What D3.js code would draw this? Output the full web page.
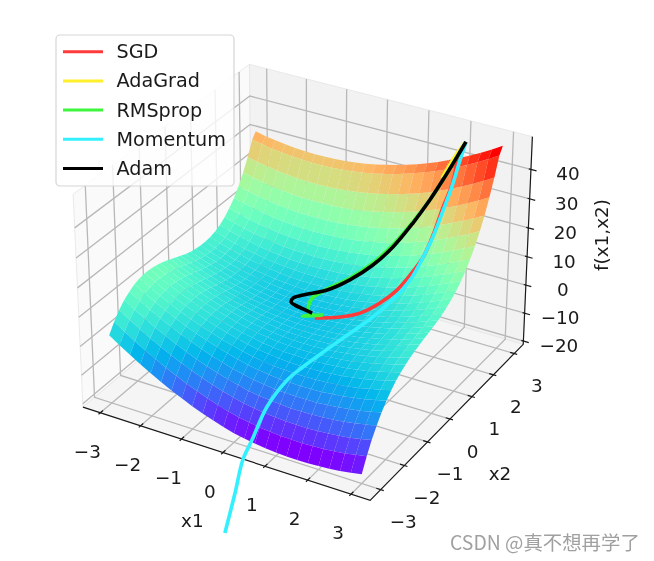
<!DOCTYPE html>
<html><head><meta charset="utf-8"><style>html,body{margin:0;background:#fff}svg{display:block}text{font-family:"DejaVu Sans";fill:#1a1a1a}</style>
<script src="https://cdn.jsdelivr.net/npm/d3@7"></script></head><body><div id="c"></div><script>
const x1Grid=[-3,-2.75,-2.5,-2.25,-2,-1.75,-1.5,-1.25,-1,-.75,-.5,-.25,0,.25,.5,.75,1,1.25,1.5,1.75,2,2.25,2.5,2.75,3];
const x2Grid=[-3,-2.8,-2.6,-2.4,-2.2,-2,-1.8,-1.6,-1.4,-1.2,-1,-.8,-.6,-.4,-.2,0,.2,.4,.6,.8,1,1.2,1.4,1.6,1.8,2,2.2,2.4,2.6,2.8,2.95];
const zGrid=[
[2.5,0.1,-2.1,-4.3,-6.3,-8.2,-10.0,-11.6,-13.2,-14.6,-15.8,-17.0,-18.0,-18.7,-19.3,-19.7,-20.0,-20.2,-20.3,-20.2,-20.0,-19.7,-19.3,-18.7,-18.0],
[5.6,3.3,1.1,-1.0,-2.9,-4.8,-6.5,-8.1,-9.5,-10.9,-12.1,-13.2,-14.1,-14.7,-15.3,-15.6,-15.9,-16.0,-16.1,-15.9,-15.7,-15.3,-14.9,-14.2,-13.5],
[8.2,5.9,3.8,1.7,-0.2,-1.9,-3.6,-5.1,-6.5,-7.8,-8.9,-9.9,-10.8,-11.4,-11.9,-12.2,-12.4,-12.5,-12.5,-12.3,-12.0,-11.6,-11.1,-10.4,-9.6],
[10.2,7.9,5.9,3.9,2.1,0.4,-1.2,-2.7,-4.0,-5.2,-6.3,-7.2,-8.1,-8.6,-9.0,-9.3,-9.5,-9.5,-9.4,-9.2,-8.9,-8.4,-7.8,-7.1,-6.3],
[11.6,9.5,7.5,5.6,3.8,2.2,0.7,-0.7,-2.0,-3.1,-4.2,-5.0,-5.8,-6.3,-6.7,-6.9,-7.0,-7.0,-6.9,-6.6,-6.2,-5.7,-5.1,-4.3,-3.4],
[12.7,10.6,8.7,6.8,5.1,3.5,2.1,0.8,-0.4,-1.5,-2.5,-3.3,-4.0,-4.4,-4.8,-4.9,-5.0,-4.9,-4.8,-4.4,-4.0,-3.4,-2.8,-1.9,-1.0],
[13.3,11.3,9.4,7.7,6.0,4.5,3.1,1.9,0.7,-0.3,-1.2,-2.0,-2.6,-3.0,-3.2,-3.4,-3.4,-3.3,-3.0,-2.7,-2.2,-1.6,-0.8,0.0,1.0],
[13.6,11.7,9.8,8.1,6.6,5.1,3.8,2.6,1.5,0.6,-0.3,-1.0,-1.5,-1.9,-2.1,-2.2,-2.1,-2.0,-1.7,-1.3,-0.7,-0.1,0.7,1.6,2.7],
[13.6,11.7,9.9,8.3,6.8,5.4,4.2,3.0,2.0,1.1,0.4,-0.3,-0.8,-1.1,-1.2,-1.3,-1.2,-1.0,-0.6,-0.2,0.4,1.1,2.0,2.9,4.0],
[13.3,11.5,9.8,8.2,6.8,5.5,4.3,3.2,2.2,1.4,0.7,0.2,-0.3,-0.5,-0.6,-0.6,-0.5,-0.2,0.2,0.7,1.3,2.1,3.0,4.0,5.1],
[12.8,11.1,9.4,7.9,6.6,5.3,4.2,3.2,2.3,1.5,0.9,0.4,0.0,-0.2,-0.2,-0.2,0.0,0.3,0.8,1.3,2.0,2.8,3.8,4.8,6.0],
[12.2,10.5,8.9,7.5,6.2,5.0,3.9,3.0,2.2,1.5,0.9,0.4,0.1,0.0,0.0,0.1,0.3,0.7,1.2,1.8,2.5,3.4,4.4,5.5,6.7],
[11.4,9.8,8.3,6.9,5.7,4.6,3.5,2.7,1.9,1.3,0.8,0.4,0.1,0.1,0.1,0.3,0.5,1.0,1.5,2.2,2.9,3.9,4.9,6.1,7.3],
[10.6,9.1,7.6,6.3,5.1,4.1,3.1,2.3,1.6,1.0,0.6,0.3,0.1,0.1,0.2,0.4,0.7,1.2,1.7,2.5,3.3,4.3,5.3,6.6,7.9],
[9.8,8.3,6.9,5.7,4.5,3.5,2.7,1.9,1.3,0.8,0.4,0.2,0.0,0.0,0.2,0.4,0.8,1.3,2.0,2.7,3.6,4.6,5.8,7.0,8.4],
[9.0,7.6,6.3,5.1,4.0,3.1,2.3,1.6,1.0,0.6,0.3,0.1,0.0,0.1,0.3,0.6,1.0,1.6,2.3,3.1,4.0,5.1,6.3,7.6,9.0],
[8.4,7.1,5.8,4.7,3.6,2.8,2.0,1.4,0.8,0.5,0.2,0.1,0.0,0.2,0.4,0.8,1.2,1.9,2.6,3.5,4.4,5.6,6.8,8.2,9.6],
[8.0,6.7,5.5,4.4,3.4,2.6,1.9,1.3,0.8,0.5,0.3,0.2,0.2,0.4,0.7,1.1,1.6,2.3,3.1,4.0,5.0,6.2,7.5,8.9,10.4],
[7.8,6.5,5.3,4.3,3.4,2.6,1.9,1.4,1.0,0.7,0.5,0.5,0.6,0.8,1.1,1.6,2.2,2.9,3.7,4.7,5.8,7.0,8.3,9.8,11.4],
[7.8,6.5,5.4,4.4,3.6,2.8,2.2,1.7,1.4,1.1,1.0,1.0,1.2,1.4,1.8,2.3,3.0,3.7,4.6,5.6,6.8,8.0,9.4,10.9,12.6],
[8.0,6.8,5.8,4.8,4.0,3.3,2.8,2.3,2.0,1.8,1.8,1.8,2.0,2.3,2.8,3.3,4.0,4.8,5.8,6.8,8.0,9.3,10.8,12.3,14.0],
[8.6,7.4,6.4,5.5,4.8,4.1,3.6,3.2,3.0,2.8,2.8,2.9,3.2,3.5,4.0,4.6,5.4,6.2,7.2,8.3,9.6,10.9,12.4,14.0,15.8],
[9.5,8.4,7.5,6.6,5.9,5.3,4.9,4.5,4.3,4.2,4.3,4.4,4.7,5.1,5.7,6.3,7.1,8.0,9.1,10.2,11.5,12.9,14.5,16.1,17.9],
[10.9,9.8,8.9,8.1,7.5,6.9,6.5,6.2,6.1,6.0,6.1,6.3,6.7,7.1,7.7,8.4,9.3,10.2,11.3,12.5,13.9,15.3,16.9,18.6,20.5],
[12.7,11.7,10.8,10.1,9.5,9.0,8.6,8.4,8.3,8.3,8.4,8.7,9.1,9.6,10.2,11.0,11.9,12.9,14.0,15.3,16.7,18.2,19.8,21.6,23.5],
[15.0,14.1,13.3,12.6,12.0,11.6,11.3,11.1,11.0,11.1,11.3,11.6,12.0,12.6,13.3,14.1,15.0,16.1,17.3,18.6,20.0,21.6,23.3,25.1,27.0],
[17.9,17.0,16.2,15.6,15.1,14.7,14.4,14.3,14.3,14.4,14.6,15.0,15.5,16.1,16.8,17.7,18.7,19.8,21.0,22.4,23.9,25.5,27.2,29.1,31.1],
[21.4,20.5,19.8,19.2,18.8,18.4,18.2,18.1,18.2,18.3,18.6,19.0,19.6,20.2,21.0,21.9,23.0,24.1,25.4,26.8,28.4,30.0,31.8,33.7,35.8],
[25.5,24.7,24.1,23.5,23.1,22.8,22.7,22.6,22.7,22.9,23.3,23.7,24.3,25.0,25.9,26.8,27.9,29.1,30.5,31.9,33.5,35.2,37.1,39.0,41.1],
[30.4,29.7,29.0,28.6,28.2,28.0,27.8,27.9,28.0,28.3,28.6,29.2,29.8,30.6,31.4,32.5,33.6,34.9,36.2,37.8,39.4,41.2,43.0,45.1,47.2],
[32.3,31.5,31.0,30.5,30.1,29.9,29.8,29.9,30.0,30.3,30.7,31.2,31.9,32.7,33.6,34.6,35.7,37.0,38.4,40.0,41.6,43.4,45.3,47.3,49.5]];
const sgdPath=[[2.11,3.01,47.07],[2.01,2.87,41.53],[2.00,2.64,34.54],[1.92,2.41,28.19],[1.87,2.08,20.68],[1.81,1.76,15.04],[1.67,1.46,10.42],[1.53,1.14,6.89],[1.31,0.80,3.93],[1.03,0.45,1.81],[0.68,0.22,0.66],[0.20,-0.02,0.04]];
const adaGradPath=[[2.11,3.01,47.07],[1.92,2.91,42.26],[1.72,2.72,35.25]];
const rmspropPath=[[2.11,3.01,47.07],[1.97,2.89,42.21],[1.75,2.70,34.84],[1.55,2.51,28.50],[1.28,2.27,21.50],[0.97,1.97,14.40],[0.66,1.67,8.97],[0.29,1.33,4.60],[-0.07,0.97,1.81],[-0.16,0.82,1.13],[-0.23,0.62,0.53],[-0.17,0.37,0.16],[-0.03,0.13,0.02],[0.09,0.06,0.02],[0.28,0.15,0.15],[-0.07,-0.08,0.02],[0.09,0.06,0.02]];
const momentumPath=[[2.11,3.01,47.07],[2.05,2.84,40.76],[2.01,2.61,34.04],[1.94,2.38,27.47],[1.88,2.05,20.25],[1.81,1.76,15.04],[1.74,1.42,10.31],[1.63,1.10,6.95],[1.50,0.76,4.40],[1.36,0.29,2.34],[1.16,-0.51,0.88],[1.01,-1.13,-0.29],[0.83,-1.61,-2.23],[0.67,-1.97,-4.66],[0.50,-2.51,-10.51],[0.42,-2.98,-18.60],[0.34,-3.22,-23.97],[0.34,-3.54,-32.91],[0.29,-3.88,-44.41]];
const adamPath=[[2.11,3.01,47.07],[1.97,2.89,42.21],[1.75,2.70,34.84],[1.55,2.51,28.50],[1.29,2.26,21.27],[0.99,1.94,13.98],[0.68,1.63,8.60],[0.31,1.29,4.30],[-0.05,0.95,1.70],[-0.46,0.63,0.56],[-0.59,0.43,0.36],[-0.55,0.28,0.25],[-0.42,0.22,0.15],[-0.20,0.18,0.04],[0.05,0.13,0.03]];
const names=['SGD','AdaGrad','RMSprop','Momentum','Adam'];
const paths=[sgdPath,adaGradPath,rmspropPath,momentumPath,adamPath];
const colors=['#ff3a3a','#fff02e','#3cf53c','#33f0ff','#000'];
const xTicks=[-3,-2,-1,0,1,2,3],yTicks=[-3,-2,-1,0,1,2,3],zTicks=[-20,-10,0,10,20,30,40];
const W=654,H=561;
const el=30*Math.PI/180,az=-60*Math.PI/180,dist=10;
const n=[Math.cos(el)*Math.cos(az),Math.cos(el)*Math.sin(az),Math.sin(el)];
const un=Math.hypot(n[0],n[1]);const u=[-n[1]/un,n[0]/un,0];
const v=[n[1]*u[2]-n[2]*u[1],n[2]*u[0]-n[0]*u[2],n[0]*u[1]-n[1]*u[0]];
const xBox=[-3.4375,3.4375],yBox=[-3.4375,3.4375],zBox=[-21.2,52.2];
const wx=d3.scaleLinear(xBox,[-.5714,.5714]),wy=d3.scaleLinear(yBox,[-.5714,.5714]),wz=d3.scaleLinear(zBox,[-.4286,.4286]);
const k=2880,cx=307,cy=270.5;
const sX=d3.scaleLinear([-.1,.1],[cx-k*.1,cx+k*.1]),sY=d3.scaleLinear([-.1,.1],[cy+k*.1,cy-k*.1]);
function proj(x,y,z){const p=[wx(x),wy(y),wz(z)];const d=dist-(p[0]*n[0]+p[1]*n[1]+p[2]*n[2]);
 return [sX((p[0]*u[0]+p[1]*u[1])/d),sY((p[0]*v[0]+p[1]*v[1]+p[2]*v[2])/d),d];}
const svg=d3.select('#c').append('svg').attr('width',W).attr('height',H).style('filter','blur(.35px)');
const L=xBox[0],R=xBox[1],B=yBox[0],T=yBox[1],Z0=zBox[0],Z1=51;
const lineG=d3.line();
function poly(pts,fill){svg.append('path').attr('d',lineG(pts.map(p=>proj(...p).slice(0,2)))+'Z').attr('fill',fill).attr('stroke','#e4e4e4').attr('stroke-width',.8);}
poly([[L,B,Z0],[L,T,Z0],[L,T,Z1],[L,B,Z1]],'#fafafa');
poly([[L,T,Z0],[R,T,Z0],[R,T,Z1],[L,T,Z1]],'#f2f2f2');
poly([[L,B,Z0],[R,B,Z0],[R,T,Z0],[L,T,Z0]],'#f5f5f5');
function seg(pts,col,w){svg.append('path').attr('d',lineG(pts.map(p=>proj(...p).slice(0,2)))).attr('fill','none').attr('stroke',col).attr('stroke-width',w);}
const grid='#b8b8b8';
xTicks.forEach(t=>seg([[t,B,Z0],[t,T,Z0],[t,T,Z1]],grid,1.3));
yTicks.forEach(t=>seg([[R,t,Z0],[L,t,Z0],[L,t,Z1]],grid,1.3));
zTicks.forEach(t=>seg([[L,B,t],[L,T,t],[R,T,t]],grid,1.3));
const ink='#1a1a1a';
seg([[L,B,Z0],[R,B,Z0],[R,T,Z0],[R,T,Z1]],ink,1.2);
xTicks.forEach(t=>seg([[t,B-.07,Z0],[t,B+.1,Z0]],ink,1.2));
yTicks.forEach(t=>seg([[R-.1,t,Z0],[R+.07,t,Z0]],ink,1.2));
zTicks.forEach(t=>seg([[R-.05,T,t],[R+.13,T,t]],ink,1.2));
const fs=18.4;
function lab(s,x,y){svg.append('text').attr('x',x).attr('y',y).attr('text-anchor','middle').attr('dominant-baseline','central').attr('font-size',fs).text(s);}
const fmt=t=>t<0?'\u2212'+(-t):''+t;
xTicks.forEach(t=>{const p=proj(t,B,Z0);lab(fmt(t),p[0]-13,p[1]+38.5);});
yTicks.forEach(t=>{const p=proj(R,t,Z0);lab(fmt(t),p[0]+22.5,p[1]+32);});
zTicks.forEach(t=>{const p=proj(R,T,t);lab(fmt(t),p[0]+(t<0?35.5:37),p[1]+4.5);});
lab('x1',192.3,520);lab('x2',500,473.3);
svg.append('text').attr('transform','translate(601,235) rotate(-90)').attr('text-anchor','middle').attr('dominant-baseline','central').attr('font-size',fs).text('f(x1,x2)');
const cells=[];
for(let j=0;j<x2Grid.length-1;j++)for(let i=0;i<x1Grid.length-1;i++){
 const c=[[i,j],[i+1,j],[i+1,j+1],[i,j+1]].map(([a,b])=>[x1Grid[a],x2Grid[b],zGrid[b][a]]);
 const P=c.map(q=>proj(...q));cells.push({P,d:d3.mean(P,p=>p[2]),z:d3.mean(c,q=>q[2])});}
cells.sort((a,b)=>b.d-a.d);
const rainbow=t=>`rgb(${[Math.abs(2*t-.5),Math.sin(Math.PI*t),Math.cos(Math.PI*t/2)].map(q=>Math.round(255*Math.min(1,q))).join(',')})`;
const col=d3.scaleSequential(rainbow).domain(d3.extent(cells,c=>c.z));
svg.append('g').selectAll('path').data(cells).join('path').attr('d',c=>lineG(c.P.map(p=>p.slice(0,2)))+'Z').attr('fill',c=>col(c.z));
const curve=d3.line().curve(d3.curveCatmullRom.alpha(.5));
names.forEach((s,i)=>svg.append('path').attr('d',curve(paths[i].map(p=>proj(...p).slice(0,2)))).attr('fill','none').attr('stroke',colors[i]).attr('stroke-width',3.6).attr('stroke-linejoin','round'));
svg.append('rect').attr('x',56).attr('y',35).attr('width',178).attr('height',151).attr('rx',4).attr('fill','#fff').attr('fill-opacity',.8).attr('stroke','#d5d5d5').attr('stroke-width',1.2);
names.forEach((s,i)=>{const y=51.7+i*29.2;svg.append('line').attr('x1',63).attr('x2',103).attr('y1',y).attr('y2',y).attr('stroke',colors[i]).attr('stroke-width',3);
 svg.append('text').attr('x',116.5).attr('y',y).attr('dominant-baseline','central').attr('font-size',19.2).text(s);});
svg.append('text').attr('x',450).attr('y',541).attr('dominant-baseline','central').style('font-family','"Noto Sans CJK SC"').style('fill','#a0a0a0').attr('font-size',19.4).text('CSDN @真不想再学了');
</script></body></html>
